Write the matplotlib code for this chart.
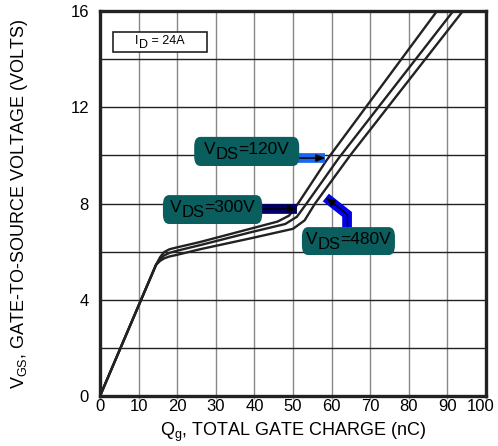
import numpy as np
import matplotlib.pyplot as plt
from matplotlib.patches import FancyBboxPatch, Rectangle
from matplotlib.transforms import offset_copy, ScaledTranslation

plt.rcParams['font.family'] = ['Liberation Sans', 'DejaVu Sans']
plt.rcParams['mathtext.fontset'] = 'custom'
plt.rcParams['mathtext.rm'] = 'Liberation Sans'
plt.rcParams['mathtext.it'] = 'Liberation Sans'

# gate charge curves (nC, V)
qg_120 = [0, 14.5, 15.6, 16.6, 18, 20, 25.9, 38.9, 46, 49, 51.3, 58.7, 87.3, 90]
vgs_120 = [0, 5.45, 5.78, 5.98, 6.1, 6.18, 6.4, 6.95, 7.25, 7.5, 8.0, 9.8, 16, 16.6]
qg_300 = [0, 14.5, 15.6, 16.6, 18, 20, 25.9, 38.9, 48, 51, 53.5, 61.9, 91.5, 94]
vgs_300 = [0, 5.45, 5.7, 5.84, 5.95, 6.04, 6.27, 6.8, 7.15, 7.45, 8.0, 9.9, 16, 16.5]
qg_480 = [0, 14.5, 15.6, 16.6, 18, 20, 25.9, 38.9, 50, 53, 55.7, 64.8, 94, 96]
vgs_480 = [0, 5.45, 5.62, 5.72, 5.8, 5.87, 6.1, 6.55, 6.95, 7.3, 8.0, 10.0, 16, 16.4]

x_ticks = [0, 10, 20, 30, 40, 50, 60, 70, 80, 90, 100]
y_ticks = [0, 4, 8, 12, 16]

fig = plt.figure(figsize=(4.98, 4.46), dpi=100)
ax = fig.add_axes([0.2008, 0.112, 0.7752, 0.8633])
renderer = fig.canvas.get_renderer()

for q, v in [(qg_120, vgs_120), (qg_300, vgs_300), (qg_480, vgs_480)]:
    ax.plot(q, v, color='#222222', lw=1.7, solid_joinstyle='round', zorder=3)

ax.set_xlim(0, 100)
ax.set_ylim(0, 16)
ax.set_xticks(x_ticks)
ax.set_yticks(y_ticks)
for xv in range(10, 100, 10):
    ax.axvline(xv, color='#888888', lw=1.0, zorder=1)
for yv in range(2, 16, 2):
    ax.axhline(yv, color='#222222', lw=1.0, zorder=1)
for s in ax.spines.values():
    s.set_linewidth(2.4)
    s.set_color('#222222')
ax.tick_params(axis='x', length=2, width=1, color='#999999', labelsize=12, pad=0)
ax.tick_params(axis='y', length=0, labelsize=12, pad=8)
last = ax.get_xticklabels()[-1]
last.set_transform(last.get_transform() + ScaledTranslation(-0.05, 0, fig.dpi_scale_trans))


def sub_text(x, y, main, sub, rest, size, z=7, sub_size=None, drop=0.3):
    # text with a large subscript, centred on (x, y) in data coordinates
    sub_size = sub_size or size * 0.9
    parts = [(main, size, 0), (sub, sub_size, -drop * size), (rest, size, 0)]
    objs = [ax.text(x, y, p, fontsize=s, ha='left', va='center', zorder=z) for p, s, _ in parts]
    widths = [t.get_window_extent(renderer).width for t in objs]
    total = sum(widths) * 72 / fig.dpi
    cur = -total / 2
    for t, w, (_, _, dy) in zip(objs, widths, parts):
        t.set_transform(offset_copy(ax.transData, fig, x=cur, y=dy, units='points'))
        cur += w * 72 / fig.dpi
    return objs


ax.set_xlabel(r'Q$_\mathrm{g}$, TOTAL GATE CHARGE (nC)', fontsize=13, labelpad=5)
ax.set_ylabel(r'V$_\mathrm{GS}$, GATE-TO-SOURCE VOLTAGE (VOLTS)', fontsize=13, labelpad=29)

# I_D box
ax.add_patch(Rectangle((3.3, 14.3), 24.4, 0.82, facecolor='white', edgecolor='#222222',
                       lw=1.2, zorder=4))
sub_text(15.5, 14.75, 'I', 'D', ' = 24A', 9, z=5, sub_size=9, drop=0.35)

teal = '#0b5e5e'


def label(x0, y0, w, h, main, sub, rest):
    ax.add_patch(FancyBboxPatch((x0, y0), w, h, boxstyle='round,pad=0,rounding_size=1.6',
                                mutation_aspect=0.25, facecolor=teal, edgecolor='none', zorder=6))
    sub_text(x0 + w / 2, y0 + h / 2 + 0.08, main, sub, rest, 12.5, sub_size=12, drop=0.3)


def shaft(xs, ys, color):
    ax.plot(xs, ys, color=color, lw=7, solid_joinstyle='miter', solid_capstyle='butt', zorder=5)
    ax.annotate('', xy=(xs[-1], ys[-1]), xytext=(xs[-2], ys[-2]),
                arrowprops=dict(arrowstyle='-|>,head_length=0.55,head_width=0.22',
                                color='black', lw=1, shrinkA=0, shrinkB=0), zorder=6)
    if len(xs) > 2:
        ax.plot(xs[:-1], ys[:-1], color='black', lw=1, zorder=6)


shaft([51.3, 58.4], [9.89, 9.89], '#1a66ee')
shaft([41.5, 51.0], [7.77, 7.77], '#000066')
shaft([64.0, 64.0, 58.5], [7.0, 7.55, 8.25], '#0000ee')

label(24.4, 9.56, 27.2, 1.21, 'V', 'DS', '=120V')
label(16.3, 7.15, 25.7, 1.2, 'V', 'DS', '=300V')
label(52.3, 5.86, 24.1, 1.16, 'V', 'DS', '=480V')

fig.savefig('out.png', dpi=100)
